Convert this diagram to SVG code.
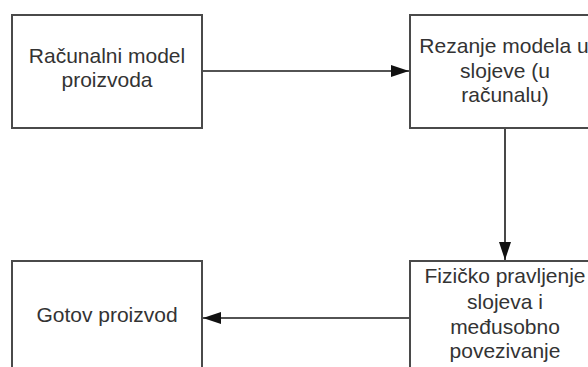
<svg xmlns="http://www.w3.org/2000/svg" width="588" height="367" viewBox="0 0 588 367">
<defs>
<style>
.box{fill:#fff;stroke:#4a4a4a;stroke-width:2}
.lbl{font-family:"Liberation Sans",Arial,sans-serif;font-size:21px;fill:#333;text-anchor:middle}
.conn{stroke:#1a1a1a;stroke-width:1.6;fill:none}
</style>
<marker id="ah" viewBox="0 0 18 12" refX="18" refY="6" markerWidth="18" markerHeight="12" markerUnits="userSpaceOnUse" orient="auto">
<path d="M0,0 L18,6 L0,12 Z" fill="#111"/>
</marker>
</defs>
<rect width="588" height="367" fill="#fff"/>
<g id="n1">
<rect class="box" x="12" y="15" width="190" height="113"/>
<text class="lbl" x="107" y="63">Računalni model</text>
<text class="lbl" x="107" y="87">proizvoda</text>
</g>
<g id="n2">
<rect class="box" x="410" y="15" width="190" height="113"/>
<text class="lbl" x="504" y="53">Rezanje modela u</text>
<text class="lbl" x="505" y="78">slojeve (u</text>
<text class="lbl" x="505" y="102">računalu)</text>
</g>
<g id="n3">
<rect class="box" x="12" y="261" width="190" height="113"/>
<text class="lbl" x="107" y="322">Gotov proizvod</text>
</g>
<g id="n4">
<rect class="box" x="410" y="261" width="190" height="113"/>
<text class="lbl" x="505" y="283">Fizičko pravljenje</text>
<text class="lbl" x="505" y="309">slojeva i</text>
<text class="lbl" x="505" y="334">međusobno</text>
<text class="lbl" x="505" y="358">povezivanje</text>
</g>
<g id="connectors">
<line class="conn" x1="203" y1="71" x2="409" y2="71" marker-end="url(#ah)"/>
<line class="conn" x1="505" y1="129" x2="505" y2="260" marker-end="url(#ah)"/>
<line class="conn" x1="409" y1="318" x2="203" y2="318" marker-end="url(#ah)"/>
</g>
</svg>
